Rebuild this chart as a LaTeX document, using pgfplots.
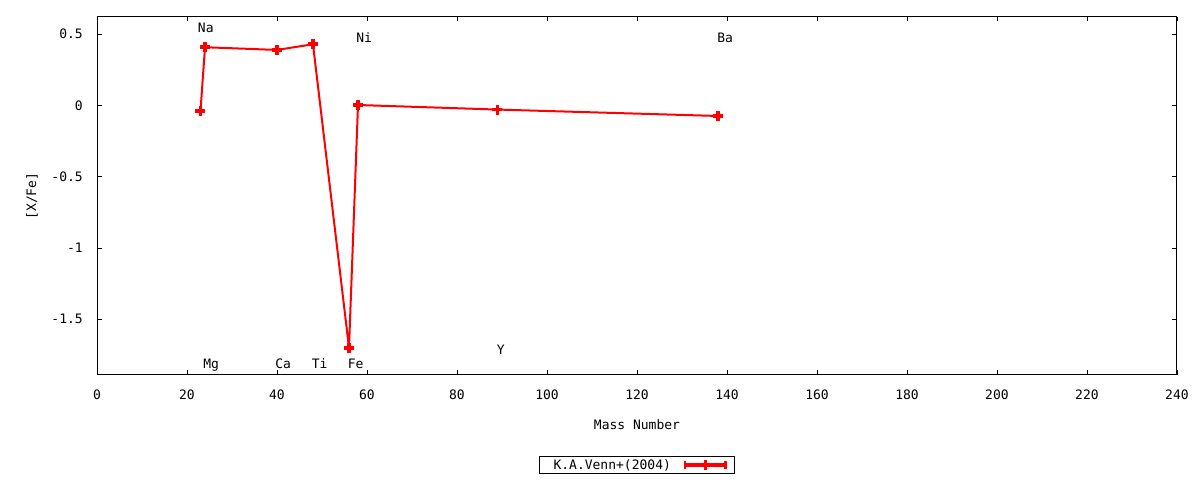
\documentclass[border=0pt]{standalone}
\usepackage{fontspec}
\setmainfont{DejaVu Sans Mono}
\usepackage{pgfplots}
\pgfplotsset{compat=1.18}

\newcommand{\gfont}{\fontsize{13bp}{15bp}\selectfont}

\begin{document}
\begin{tikzpicture}
\useasboundingbox (0,0) rectangle (1200bp,480bp);
\begin{axis}[
    at={(97bp,105bp)}, anchor=south west,
    scale only axis, width=1080bp, height=358bp,
    xmin=0, xmax=240, ymin=-1.891, ymax=0.619,
    xtick={0,20,...,240},
    xticklabels={0,20,40,60,80,100,120,140,160,180,200,220,240},
    ytick={-1.5,-1,-0.5,0,0.5},
    yticklabels={-1.5,-1,-0.5,0,0.5},
    tick align=inside,
    major tick length=4.5bp,
    every tick/.style={black, line width=0.8bp},
    axis line style={black, line width=1bp},
    xticklabel style={font=\gfont, anchor=center, inner sep=0pt, yshift=-20bp},
    yticklabel style={font=\gfont, anchor=east, inner sep=0pt, xshift=-14bp},
    xlabel={Mass Number},
    ylabel={[X/Fe]},
    xlabel style={font=\gfont, at={(axis description cs:0.5,-0.1397)}, anchor=center},
    ylabel style={font=\gfont, at={(axis description cs:-0.0602,0.5)}, anchor=center},
    clip=false,
    legend plot pos=right,
    legend style={
        at={(axis description cs:0.5,-0.2514)}, anchor=center,
        draw=black, line width=0.8bp, font=\gfont,
        inner xsep=6bp, inner ysep=1bp,
        /tikz/every odd column/.append style={column sep=9bp},
    },
    legend image code/.code={
        \draw[red, line width=3.5bp] (0bp,0bp) -- (43bp,0bp);
        \draw[red, line width=2.8bp] (1.4bp,-4bp) -- (1.4bp,4bp)
            (41.6bp,-4bp) -- (41.6bp,4bp) (21.5bp,-5bp) -- (21.5bp,5bp);
    },
    every node/.append style={},
]
\addplot[red, line width=2bp, mark=+, mark size=5bp,
    mark options={line width=3.5bp}]
coordinates {
    (23,-0.04) (24,0.407) (40,0.388) (48,0.428) (56,-1.70)
    (58,0.002) (89,-0.03) (138,-0.075)
};
\addlegendentry{\hspace{6bp}K.A.Venn+(2004)}

\begin{scope}[every node/.style={anchor=mid west, inner sep=0pt, font=\gfont, yshift=-2.5bp}]
\node at (axis cs:22.4,0.547) {Na};
\node at (axis cs:23.6,-1.81) {Mg};
\node at (axis cs:39.6,-1.81) {Ca};
\node at (axis cs:47.7,-1.81) {Ti};
\node at (axis cs:55.7,-1.81) {Fe};
\node at (axis cs:57.6,0.477) {Ni};
\node at (axis cs:88.8,-1.711) {Y};
\node at (axis cs:137.8,0.474) {Ba};
\end{scope}
\end{axis}
\end{tikzpicture}
\end{document}
